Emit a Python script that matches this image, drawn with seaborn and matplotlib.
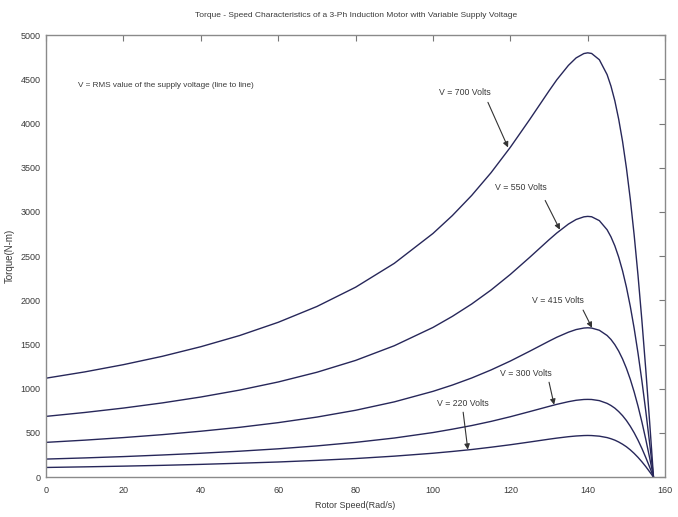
import matplotlib
matplotlib.use("Agg")
import matplotlib.pyplot as plt
import seaborn as sns
import pandas as pd

# ---- data ----
speed = [0, 10, 20, 30, 40, 50, 60, 70, 80, 90, 100, 105, 110, 115, 120, 125, 130, 132,
         135, 137, 139, 140, 141, 143, 145, 146, 147, 148, 149, 150, 151, 152, 153, 154,
         155, 156, 156.5, 157]
torque_700 = [1120, 1191, 1273, 1367, 1476, 1602, 1752, 1931, 2149, 2419, 2757, 2959, 3187,
              3444, 3732, 4046, 4370, 4495, 4658, 4743, 4792, 4800, 4793, 4722, 4554, 4424,
              4258, 4049, 3798, 3496, 3144, 2738, 2280, 1771, 1217, 623, 314, 0]
torque_550 = [688, 732, 782, 840, 907, 985, 1077, 1187, 1321, 1487, 1694, 1819, 1959,
              2117, 2294, 2487, 2686, 2762, 2863, 2915, 2945, 2950, 2946, 2902, 2799, 2719,
              2617, 2489, 2334, 2149, 1932, 1683, 1401, 1089, 748, 383, 193, 0]
torque_415 = [394, 419, 448, 481, 520, 564, 617, 680, 757, 852, 971, 1042, 1122,
              1213, 1314, 1425, 1539, 1583, 1640, 1670, 1687, 1690, 1687, 1662, 1603, 1558,
              1499, 1426, 1337, 1231, 1107, 964, 803, 624, 428, 219, 111, 0]
torque_300 = [205, 218, 233, 251, 271, 294, 321, 354, 394, 443, 505, 543, 584,
              631, 684, 742, 801, 824, 854, 870, 879, 880, 879, 866, 835, 811,
              781, 742, 696, 641, 576, 502, 418, 325, 223, 114, 58, 0]
torque_220 = [110, 117, 125, 134, 145, 158, 172, 190, 211, 238, 271, 291, 313,
              339, 367, 398, 430, 442, 458, 466, 471, 472, 471, 464, 448, 435,
              419, 398, 373, 344, 309, 269, 224, 174, 120, 61, 31, 0]

voltages = ["700", "550", "415", "300", "220"]
series = [torque_700, torque_550, torque_415, torque_300, torque_220]

x_ticks = [0, 20, 40, 60, 80, 100, 120, 140, 160]
y_ticks = [0, 500, 1000, 1500, 2000, 2500, 3000, 3500, 4000, 4500, 5000]

# annotation text positions / arrow tails / arrow tips (data coords)
ann_labels = ["V = 700 Volts", "V = 550 Volts", "V = 415 Volts", "V = 300 Volts", "V = 220 Volts"]
ann_text = [(101.5, 4350), (116.0, 3280), (125.6, 2000), (117.3, 1176), (101.0, 837)]
ann_tail = [(114.2, 4240), (129.0, 3130), (138.8, 1890), (130.0, 1074), (107.8, 735)]
ann_tip = [(119.4, 3730), (132.8, 2800), (141.1, 1690), (131.3, 820), (109.0, 312)]

title = "Torque - Speed Characteristics of a 3-Ph Induction Motor with Variable Supply Voltage"
note = "V = RMS value of the supply voltage (line to line)"

# ---- build table ----
rows = []
for v, t in zip(voltages, series):
    for s, q in zip(speed, t):
        rows.append({"speed": s, "torque": q, "V": v})
df = pd.DataFrame(rows)

sns.set_theme(style="white")
plt.rcParams["font.family"] = ["Liberation Sans", "DejaVu Sans"]

line_col = "#27275a"
txt_col = "#3a3a3a"

fig = plt.figure(figsize=(6.78, 5.17), dpi=100)
ax = fig.add_axes([0.068, 0.077, 0.913, 0.855])

sns.lineplot(data=df, x="speed", y="torque", hue="V", palette=[line_col] * 5,
             legend=False, sort=False, estimator=None, linewidth=1.0, ax=ax)

ax.set_xlim(0, 160)
ax.set_ylim(0, 5000)
ax.set_xticks(x_ticks)
ax.set_yticks(y_ticks)
ax.set_xticklabels([str(v) for v in x_ticks])
ax.set_yticklabels([str(v) for v in y_ticks])
ax.tick_params(direction="in", length=4, width=0.8, top=True, right=True,
               labelsize=6.5, colors="#777777", labelcolor=txt_col, pad=4)
ax.tick_params(axis="x", pad=6)
for sp in ax.spines.values():
    sp.set_color("#8a8a8a")
    sp.set_linewidth(1.0)

ax.set_xlabel("Rotor Speed(Rad/s)", fontsize=6.5, color=txt_col, labelpad=5)
ax.set_ylabel("Torque(N-m)", fontsize=7, color=txt_col, labelpad=4)
ax.set_title(title, fontsize=6.0, color=txt_col, pad=13)

ax.text(8.3, 4434, note, fontsize=5.9, color=txt_col, va="center", ha="left")

for lab, tp, tl, tip in zip(ann_labels, ann_text, ann_tail, ann_tip):
    ax.text(tp[0], tp[1], lab, fontsize=6.3, color=txt_col, va="center", ha="left")
    ax.annotate("", xy=tip, xytext=tl,
                arrowprops=dict(arrowstyle="-|>", color="#333333", lw=0.8,
                                mutation_scale=8, shrinkA=0, shrinkB=0))

fig.savefig("out.png", dpi=100)
